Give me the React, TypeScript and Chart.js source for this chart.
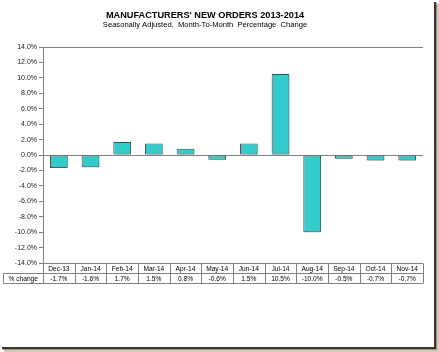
import React, { useEffect, useRef } from "react";
import { Chart, registerables } from "chart.js";

Chart.register(...registerables);

const TITLE = "MANUFACTURERS' NEW ORDERS 2013-2014";
const SUBTITLE = "Seasonally Adjusted,  Month-To-Month  Percentage  Change";
const categories = ["Dec-13", "Jan-14", "Feb-14", "Mar-14", "Apr-14", "May-14", "Jun-14", "Jul-14", "Aug-14", "Sep-14", "Oct-14", "Nov-14"];
const seriesName = "% change";
const values = [-1.7, -1.6, 1.7, 1.5, 0.8, -0.6, 1.5, 10.5, -10.0, -0.5, -0.7, -0.7];
const yMin = -14;
const yMax = 14;
const yStep = 2;

const FONT = "'Liberation Sans', Arial, sans-serif";
const LINE = "#808080";

const framePlugin = {
  id: "frame",
  beforeDraw(chart: any) {
    const ctx = chart.ctx;
    ctx.save();
    ctx.fillStyle = "#ffffff";
    ctx.fillRect(0, 0, chart.width, chart.height);
    // right shadow
    ctx.fillStyle = "#3a362e";
    ctx.fillRect(434, 2, 2, 347);
    ctx.fillStyle = "#9c9484";
    ctx.fillRect(436, 3, 1, 347);
    ctx.fillStyle = "#d0c8b8";
    ctx.fillRect(437, 4, 2, 347);
    // bottom shadow
    ctx.fillStyle = "#3a362e";
    ctx.fillRect(2, 347, 434, 2);
    ctx.fillStyle = "#9c9484";
    ctx.fillRect(3, 349, 434, 1);
    ctx.fillStyle = "#d0c8b8";
    ctx.fillRect(4, 350, 435, 2);
    // titles
    ctx.fillStyle = "#000000";
    ctx.textAlign = "center";
    ctx.textBaseline = "middle";
    ctx.font = `bold 9.2px ${FONT}`;
    ctx.fillText(TITLE, 205, 15);
    ctx.font = `7.6px ${FONT}`;
    ctx.fillText(SUBTITLE, 205, 25);
    ctx.restore();
  },
};

const shadowPlugin = {
  id: "barShadow",
  beforeDatasetsDraw(chart: any) {
    const ctx = chart.ctx;
    ctx.save();
    ctx.shadowColor = "rgba(120,120,120,0.45)";
    ctx.shadowOffsetX = 2;
    ctx.shadowOffsetY = 2;
    ctx.shadowBlur = 1;
  },
  afterDatasetsDraw(chart: any) {
    chart.ctx.restore();
  },
};

const tablePlugin = {
  id: "dataTable",
  afterDraw(chart: any) {
    const ctx = chart.ctx;
    const area = chart.chartArea;
    const xs = chart.scales.x;
    const n = categories.length;
    const cellW = (area.right - area.left) / n;
    const rowH = 10;
    const r0 = Math.round(area.bottom) + 0.5;
    const r1 = r0 + rowH;
    const r2 = r1 + rowH;
    const labelLeft = 3.5;
    ctx.save();
    ctx.strokeStyle = LINE;
    ctx.lineWidth = 1;
    ctx.beginPath();
    ctx.moveTo(area.left, r0);
    ctx.lineTo(area.right, r0);
    ctx.moveTo(labelLeft, r1);
    ctx.lineTo(area.right, r1);
    ctx.moveTo(labelLeft, r2);
    ctx.lineTo(area.right, r2);
    for (let i = 0; i <= n; i++) {
      const x = Math.round(area.left + i * cellW) + 0.5;
      ctx.moveTo(x, r0);
      ctx.lineTo(x, r2);
    }
    ctx.moveTo(labelLeft, r1);
    ctx.lineTo(labelLeft, r2);
    ctx.stroke();

    ctx.fillStyle = "#000000";
    ctx.font = `6.6px ${FONT}`;
    ctx.textAlign = "center";
    ctx.textBaseline = "middle";
    for (let i = 0; i < n; i++) {
      const cx = xs.getPixelForValue(i);
      ctx.fillText(categories[i], cx, r0 + rowH / 2 + 0.5);
      ctx.fillText(values[i].toFixed(1) + "%", cx, r1 + rowH / 2 + 0.5);
    }
    ctx.fillText(seriesName, (labelLeft + area.left) / 2, r1 + rowH / 2 + 0.5);
    ctx.restore();
  },
};

export default function App() {
  const ref = useRef<HTMLCanvasElement | null>(null);
  useEffect(() => {
    if (!ref.current) return;
    const chart = new Chart(ref.current, {
      type: "bar",
      data: {
        labels: categories,
        datasets: [
          {
            label: seriesName,
            data: values,
            backgroundColor: "#33CCCC",
            borderColor: "#2b5555",
            borderWidth: 1,
            borderSkipped: false,
            categoryPercentage: 1,
            barPercentage: 0.56,
          },
        ],
      },
      options: {
        responsive: false,
        animation: false,
        devicePixelRatio: 1,
        layout: { padding: { top: 47, bottom: 89, right: 16, left: 0 } },
        plugins: {
          legend: { display: false },
          title: { display: false },
          tooltip: { enabled: false },
        },
        scales: {
          x: { display: false },
          y: {
            min: yMin,
            max: yMax,
            afterFit(scale: any) {
              scale.width = 43;
            },
            ticks: {
              stepSize: yStep,
              padding: 2,
              color: "#1a1a1a",
              font: { family: FONT, size: 7 },
              callback: (v: any) => Number(v).toFixed(1) + "%",
            },
            grid: {
              drawOnChartArea: true,
              color: (c: any) => (c.tick && (c.tick.value === 0 || c.tick.value === yMax) ? LINE : "rgba(0,0,0,0)"),
              tickColor: LINE,
              tickLength: 4,
              lineWidth: 1,
            },
            border: { display: true, color: LINE, width: 1 },
          },
        },
      },
      plugins: [framePlugin, shadowPlugin, tablePlugin],
    });
    return () => chart.destroy();
  }, []);
  return (
    <div style={{ position: "fixed", left: 0, top: 0, width: 439, height: 352 }}>
      <canvas ref={ref} width={439} height={352} style={{ display: "block", width: 439, height: 352 }} />
    </div>
  );
}
